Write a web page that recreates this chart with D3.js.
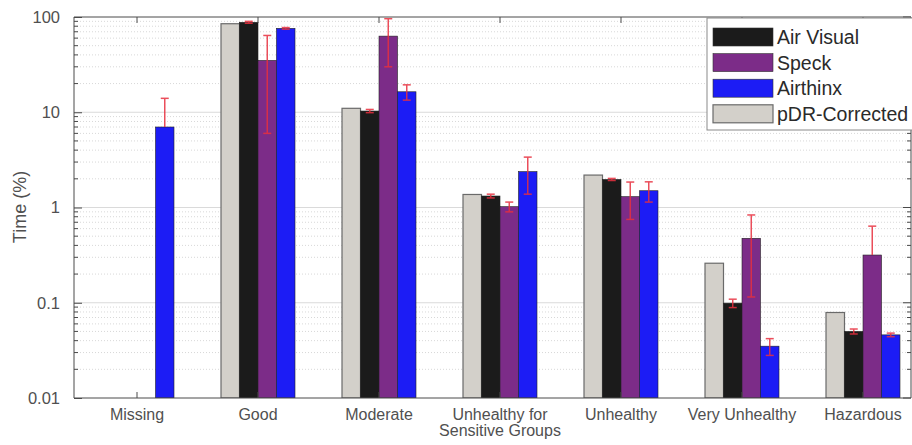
<!DOCTYPE html>
<html><head><meta charset="utf-8">
<script src="https://cdn.jsdelivr.net/npm/d3@7"></script>
<style>
html,body{margin:0;padding:0;background:#fff;}
svg{display:block;font-family:"Liberation Sans",Arial,Helvetica,sans-serif;}
</style></head>
<body><svg id="chart" width="912" height="445"></svg>
<script>
// ---- data ----
const categories = ["Missing","Good","Moderate","Unhealthy for\nSensitive Groups","Unhealthy","Very Unhealthy","Hazardous"];
const seriesNames = ["pDR-Corrected","Air Visual","Speck","Airthinx"];
const pdrCorrected = [null, 85, 11, 1.37, 2.19, 0.26, 0.079];
const airVisual    = [null, 88, 10.3, 1.32, 1.97, 0.099, 0.05];
const airVisualErr = [null, 2, 0.4, 0.06, 0.05, 0.01, 0.003];
const speck        = [null, 35, 63, 1.02, 1.3, 0.475, 0.317];
const speckErr     = [null, 29, 33, 0.12, 0.55, 0.36, 0.32];
const airthinx     = [7.0, 76, 16.4, 2.38, 1.5, 0.035, 0.046];
const airthinxErr  = [7.0, 1.5, 3, 1.0, 0.36, 0.007, 0.002];
const yTickValues  = [0.01, 0.1, 1, 10, 100];
const yTickLabels  = ["0.01","0.1","1","10","100"];
const legendOrder  = ["Air Visual","Speck","Airthinx","pDR-Corrected"];

const colors = {"pDR-Corrected":"#d3d0ca","Air Visual":"#1b1b1b","Speck":"#7c2c88","Airthinx":"#1c1cf5"};
const values = {"pDR-Corrected":pdrCorrected,"Air Visual":airVisual,"Speck":speck,"Airthinx":airthinx};
const errors = {"pDR-Corrected":null,"Air Visual":airVisualErr,"Speck":speckErr,"Airthinx":airthinxErr};

const svg = d3.select("#chart");
const L = 74, R = 911, T = 17, B = 398;

const y = d3.scaleLog().domain([0.01, 100]).range([B, T]);
const x = d3.scaleBand().domain(categories).range([76.5, 76.5 + 121*7]).padding(0);
const xs = d3.scaleBand().domain(seriesNames).range([-37, 37]).padding(0);

svg.append("defs").append("clipPath").attr("id","clip")
  .append("rect").attr("x",L).attr("y",T).attr("width",R-L).attr("height",B-T);

// grid
const minor = [];
for (let e=-2; e<2; e++) for (let k=1; k<10; k++) minor.push(k*Math.pow(10,e));
minor.push(100);
const grid = svg.append("g");
grid.selectAll("line.mi").data(minor.filter(v=>!yTickValues.includes(v))).join("line")
  .attr("x1",L).attr("x2",R).attr("y1",d=>y(d)).attr("y2",d=>y(d))
  .attr("stroke","#d8d8d8").attr("stroke-width",1).attr("stroke-dasharray","1,2");
grid.selectAll("line.ma").data(yTickValues.slice(1,-1)).join("line")
  .attr("x1",L).attr("x2",R).attr("y1",d=>y(d)).attr("y2",d=>y(d))
  .attr("stroke","#dadada").attr("stroke-width",1);

// bars
const plot = svg.append("g").attr("clip-path","url(#clip)");
const barData = [];
categories.forEach((c,i)=>{
  seriesNames.forEach(s=>{
    const v = values[s][i];
    if (v!=null) barData.push({c,s,v,e: errors[s]? errors[s][i] : null});
  });
});
plot.selectAll("rect.bar").data(barData).join("rect")
  .attr("x",d=>x(d.c)+x.bandwidth()/2+xs(d.s))
  .attr("width",xs.bandwidth())
  .attr("y",d=>y(d.v))
  .attr("height",d=>B - y(d.v))
  .attr("fill",d=>colors[d.s])
  .attr("stroke",d=>d.s==="pDR-Corrected" ? "#6a6a6a" : "#222")
  .attr("stroke-width",d=>d.s==="pDR-Corrected" ? 1.2 : 0.6);

// error bars
const eb = plot.append("g").attr("stroke","#e8303f").attr("stroke-width",1.5).attr("opacity",0.85);
barData.filter(d=>d.e!=null).forEach(d=>{
  const cx = x(d.c)+x.bandwidth()/2+xs(d.s)+xs.bandwidth()/2;
  const top = y(d.v+d.e);
  const low = d.v-d.e > 0 ? y(d.v-d.e) : y(d.v);
  eb.append("line").attr("x1",cx).attr("x2",cx).attr("y1",top).attr("y2",low);
  eb.append("line").attr("x1",cx-4).attr("x2",cx+4).attr("y1",top).attr("y2",top);
  if (d.v-d.e > 0) eb.append("line").attr("x1",cx-4).attr("x2",cx+4).attr("y1",low).attr("y2",low);
});

// axes box
const ax = svg.append("g").attr("stroke","#4a4a4a").attr("stroke-width",1);
ax.append("line").attr("x1",L).attr("x2",R).attr("y1",T).attr("y2",T);
ax.append("line").attr("x1",L).attr("x2",R).attr("y1",B).attr("y2",B);
ax.append("line").attr("x1",L).attr("x2",L).attr("y1",T).attr("y2",B);
ax.append("line").attr("x1",R).attr("x2",R).attr("y1",T).attr("y2",B);

// y ticks (left via d3 axis, inward)
const yAxis = d3.axisLeft(y).tickValues(yTickValues).tickFormat((d,i)=>yTickLabels[i]).tickSize(-8).tickPadding(14);
const gy = svg.append("g").attr("transform",`translate(${L},0)`).call(yAxis);
gy.select(".domain").remove();
gy.selectAll(".tick line").attr("stroke","#4a4a4a");
gy.selectAll(".tick text").attr("fill","#505050").attr("font-size","16.5px")
  .attr("font-family","'Liberation Sans',Arial,sans-serif");
// minor ticks
const minorT = minor.filter(v=>!yTickValues.includes(v));
ax.selectAll("line.mtl").data(minorT).join("line")
  .attr("x1",L).attr("x2",L+4).attr("y1",d=>y(d)).attr("y2",d=>y(d));
ax.selectAll("line.mtr").data(minorT).join("line")
  .attr("x1",R).attr("x2",R-4).attr("y1",d=>y(d)).attr("y2",d=>y(d));
ax.selectAll("line.Mtr").data(yTickValues).join("line")
  .attr("x1",R).attr("x2",R-8).attr("y1",d=>y(d)).attr("y2",d=>y(d));

// x ticks
const xAxis = d3.axisBottom(x).tickSize(-6).tickFormat("");
const gx = svg.append("g").attr("transform",`translate(0,${B})`).call(xAxis);
gx.select(".domain").remove();
gx.selectAll(".tick line").attr("stroke","#4a4a4a");
ax.selectAll("line.tt").data(categories).join("line")
  .attr("x1",d=>x(d)+x.bandwidth()/2).attr("x2",d=>x(d)+x.bandwidth()/2)
  .attr("y1",T).attr("y2",T+6);

// x labels
const xl = svg.append("g").attr("fill","#505050").attr("font-size","16px").attr("text-anchor","middle");
categories.forEach(c=>{
  const lines = c.split("\n");
  const t = xl.append("text").attr("x",x(c)+x.bandwidth()/2).attr("y",420);
  lines.forEach((ln,j)=>t.append("tspan").attr("x",x(c)+x.bandwidth()/2).attr("dy",j===0?0:15.5).text(ln));
});

// y label
svg.append("text").attr("transform","translate(26,207) rotate(-90)")
  .attr("text-anchor","middle").attr("fill","#505050").attr("font-size","18px").text("Time (%)");

// legend
const lg = svg.append("g");
lg.append("rect").attr("x",707).attr("y",18).attr("width",220).attr("height",112)
  .attr("fill","#fff").attr("stroke","#8a8a8a").attr("stroke-width",1);
legendOrder.forEach((s,i)=>{
  const cy = 37 + i*25.6;
  lg.append("rect").attr("x",713).attr("y",cy-9).attr("width",60).attr("height",18)
    .attr("fill",colors[s]).attr("stroke",s==="pDR-Corrected"?"#6a6a6a":"#333").attr("stroke-width",s==="pDR-Corrected"?1.2:0.6);
  lg.append("text").attr("x",777).attr("y",cy+7).attr("font-size","19.5px").attr("fill","#2a2a2a").text(s);
});
</script></body></html>
